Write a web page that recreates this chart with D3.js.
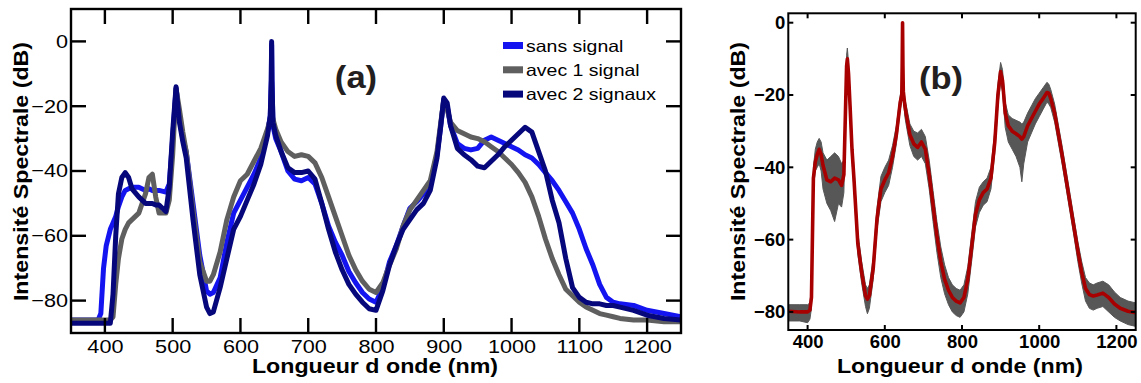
<!DOCTYPE html>
<html><head><meta charset="utf-8">
<script src="https://cdn.jsdelivr.net/npm/d3@7"></script>
<style>
html,body{margin:0;padding:0;background:#fff;}
svg{display:block;font-family:"Liberation Sans",Arial,sans-serif;}
</style></head>
<body><svg id="chart" width="1141" height="383" viewBox="0 0 1141 383"></svg>
<script>
// ---------- Panel (a) data ----------
const waveA = [350,370,390,394,398,402,408,412,416,420,425,430,435,440,450,460,465,470,475,480,490,495,500,505,510,515,520,530,540,550,555,560,570,580,590,600,610,620,630,640,644,645.5,646,646.5,648,652,660,670,680,690,700,710,720,730,740,750,760,770,780,790,800,810,820,830,840,850,860,870,880,890,895,900,905,910,920,930,940,950,960,970,980,990,1000,1010,1020,1030,1040,1050,1060,1070,1080,1090,1100,1110,1120,1130,1140,1150,1160,1180,1200,1225,1250];
const sansSignal = [-86,-86,-86,-84,-70,-63,-58,-56,-54,-51,-48,-46,-45.5,-45,-45,-46,-45.5,-46,-46,-46,-46.5,-44,-30,-14.5,-24,-30,-34,-50,-66,-77,-78,-77.5,-73,-62,-53,-49,-45,-41,-36,-28,-23,-12,-1,-12,-26,-30,-34,-40,-42.5,-43,-42,-44,-50,-57,-62,-66,-71,-74.5,-77.5,-79.5,-80.5,-76,-68,-63,-57,-51.5,-49.5,-47,-44,-35,-27,-18,-20,-26,-31.5,-33,-33.5,-33,-30.5,-29.5,-30.5,-31.5,-32.5,-33.5,-35,-36,-38,-40.5,-43,-46,-49.5,-53,-58,-64,-69,-75,-79,-80.5,-81,-81.5,-83,-84,-85];
const avec1Signal = [-86,-86,-86,-86,-86,-86,-86,-85,-75,-67,-61,-58,-56,-55,-53,-47,-42,-41,-48,-53,-53,-49,-35,-14.5,-21,-28,-34,-52,-68,-74,-74,-72,-65,-55,-48,-43,-41,-37,-33,-27,-24,-22.5,-22,-22.5,-24,-27,-31,-34,-35.5,-35,-35.5,-37.5,-42,-48,-54,-60,-66,-70.5,-74,-76.5,-77.5,-74.5,-69,-64,-57,-52,-49,-46,-43,-34,-26,-18,-21,-25,-27.5,-28.5,-29.5,-30,-31,-32.5,-34,-36,-38,-40.5,-43.5,-48,-54,-61,-67,-72,-76.5,-78.5,-80.5,-82,-83,-84,-84.5,-85,-85.5,-86,-86,-86.5,-86.5];
const avec2Signaux = [-87,-87,-87,-87,-87,-87,-87,-78,-60,-47,-42,-40.5,-42,-45.5,-48,-50,-50,-50,-50.5,-50.5,-52.5,-45,-28,-14,-25,-31,-36,-55,-72,-82,-84,-83.5,-76,-67,-58,-54,-49,-44,-38,-29,-23,-12,0,-12,-25,-29,-34,-39,-40.5,-40.5,-40,-42.5,-50,-58,-65,-70.5,-75,-78,-80.5,-82.5,-83,-77,-69,-63,-58,-55,-52,-50,-46,-36,-27,-17.5,-19,-26,-33,-35,-36.5,-38.5,-39,-37,-35,-32.5,-30.5,-28.5,-26.5,-28,-34,-40,-49,-56,-67,-76,-79,-80.5,-81,-81,-81.5,-81.5,-82,-83,-84.5,-85.5,-86];
const seriesNamesA = ["sans signal","avec 1 signal","avec 2 signaux"];
const seriesColorsA = ["#1414f0","#5f5f5f","#07077c"];
const xTicksA = [400,500,600,700,800,900,1000,1100,1200];
const yTicksA = [0,-20,-40,-60,-80];

// ---------- Panel (b) data ----------
const waveB = [350,380,400,406,410,415,420,425,430,435,440,450,460,470,480,488,494,498,501,503,506,510,515,520,530,540,550,555,560,570,580,590,600,610,620,630,640,642,644,645,646,647,648,652,655,665,675,685,695,705,715,725,735,745,755,765,775,785,795,805,815,825,835,845,855,865,875,885,893,900,905,912,920,930,940,950,955,960,970,980,990,1000,1010,1020,1025,1030,1040,1050,1060,1070,1080,1090,1100,1110,1120,1130,1140,1150,1165,1180,1195,1210,1230,1250];
const meanB = [-79.8,-80,-80,-79.5,-76,-43,-38.5,-36.5,-35,-36.5,-39.5,-43.5,-44,-43,-43.5,-45,-42,-25,-12,-10,-14,-23,-35,-43,-61,-69,-75.5,-76.5,-75.5,-68,-54,-46,-43.5,-41.5,-37,-31,-22,-21,-20,-12,0,-12,-19,-23,-25,-31,-33.5,-34.5,-33,-35,-42,-50.5,-59,-66,-71,-74,-76,-77,-77.5,-76,-71,-62,-53,-49,-47,-46,-43,-33,-20,-13.5,-16,-25,-28.5,-30,-30.7,-31.5,-32.2,-31.5,-28.5,-26.5,-24.5,-22.5,-21,-19.3,-19.5,-21,-25,-31,-37,-43.5,-50,-56.5,-63,-69,-73.5,-75.2,-75.6,-75.3,-74.8,-76,-77.8,-79,-79.8,-80.2];
const highB = [-78,-78,-78,-77.5,-73,-40,-35,-33,-32,-33,-36,-38,-37,-36,-37,-39,-38,-22,-9,-7,-11,-20,-32,-40,-58,-66,-72.5,-73.5,-72.5,-65,-51,-42.5,-40,-38,-34,-28.5,-20,-19,-18,-11,0,-11,-17,-21,-22.5,-28,-30,-30.5,-29.5,-31.5,-38,-46.5,-55,-62,-67,-70.5,-72.5,-73.5,-74,-72.5,-67.5,-58.5,-49.5,-45.5,-44,-43,-40,-30,-17,-11,-13,-22,-25.5,-26.5,-27,-27.5,-28,-27.5,-25,-23,-21,-19.5,-18,-16.5,-17,-18.5,-22.5,-28.5,-34.5,-41,-47.5,-54,-60.5,-66,-70.5,-72,-72.5,-72,-71.5,-72.5,-74.5,-76,-77,-77.5];
const lowB = [-82.5,-82.5,-83,-82,-79,-46,-41,-40,-39,-41,-46,-50,-52,-55,-50,-51,-47,-28,-15,-13,-17,-26,-38,-46,-64,-72,-78.5,-80.5,-79,-71,-57,-49.5,-47,-45,-40,-33.5,-24,-23,-22,-14,-2,-14,-21,-26,-28,-34,-37,-38,-37,-39,-46,-55,-63.5,-70.5,-75,-78,-80,-81,-81.5,-80,-75,-66,-56.5,-52.5,-50.5,-49.5,-46,-36,-23,-16.5,-19,-29,-33,-35,-37,-40,-44,-39,-33,-30.5,-28,-26,-24,-22,-22.5,-23.5,-27.5,-33.5,-39.5,-46,-52.5,-59,-66,-72,-77,-79,-79.5,-79,-78.5,-80,-81.5,-82.5,-83.5,-84];
const xTicksB = [400,600,800,1000,1200];
const yTicksB = [0,-20,-40,-60,-80];

// ---------- Drawing ----------
const svg = d3.select("#chart");
const FONT = '"Liberation Sans",Arial,sans-serif';

function stretch(sel, factor){
  sel.each(function(){
    const w = this.getComputedTextLength();
    d3.select(this).attr("textLength", w*factor).attr("lengthAdjust","spacingAndGlyphs");
  });
}
function styleAxis(g, size, weight){
  g.select(".domain").remove();
  g.selectAll(".tick line").remove();
  g.selectAll(".tick text").attr("fill","#000").style("font-family",FONT)
    .style("font-size",size+"px").style("font-weight",weight);
}
// frame + inward tick marks (filled bars) on all four sides, positioned by the scales
function frameWithTicks(x, y, box, xt, yt, len, sw, col){
  const g = svg.append("g").attr("class","frame");
  const h = sw/2;
  g.selectAll("rect.xb").data(xt).join("rect").attr("class","xb")
    .attr("x",d=>x(d)-h).attr("y",box.b-len).attr("width",sw).attr("height",len).style("fill",col);
  g.selectAll("rect.xt").data(xt).join("rect").attr("class","xt")
    .attr("x",d=>x(d)-h).attr("y",box.t).attr("width",sw).attr("height",len).style("fill",col);
  g.selectAll("rect.yl").data(yt).join("rect").attr("class","yl")
    .attr("x",box.l).attr("y",d=>y(d)-h).attr("width",len).attr("height",sw).style("fill",col);
  g.selectAll("rect.yr").data(yt).join("rect").attr("class","yr")
    .attr("x",box.r-len).attr("y",d=>y(d)-h).attr("width",len).attr("height",sw).style("fill",col);
  g.append("rect").attr("x",box.l).attr("y",box.t).attr("width",box.r-box.l).attr("height",box.b-box.t)
    .attr("fill","none").attr("stroke","#000").attr("stroke-width",sw);
}

// Panel (a)
const A = {l:71, t:9, r:681, b:333};
const xa = d3.scaleLinear().domain([350,1250]).range([A.l, A.r]);
const ya = d3.scaleLinear().domain([-90,10]).range([A.b, A.t]);

svg.append("defs").append("clipPath").attr("id","clipA").append("rect")
  .attr("x",A.l).attr("y",A.t).attr("width",A.r-A.l).attr("height",A.b-A.t);

const gA = svg.append("g").attr("clip-path","url(#clipA)");
const lineA = d3.line().x((d,i)=>xa(waveA[i])).y(d=>ya(d));
[sansSignal, avec1Signal, avec2Signaux].forEach((s,k)=>{
  gA.append("path").datum(s).attr("d", lineA)
    .attr("fill","none").attr("stroke",seriesColorsA[k])
    .attr("stroke-width",5).attr("stroke-linejoin","round");
});

const axA_b = svg.append("g").attr("transform",`translate(0,${A.b})`)
  .call(d3.axisBottom(xa).tickValues(xTicksA).tickSize(0).tickPadding(7).tickFormat(d3.format("d")));
styleAxis(axA_b,18.5,"normal"); stretch(axA_b.selectAll(".tick text"),1.17);
const axA_l = svg.append("g").attr("transform",`translate(${A.l},0)`)
  .call(d3.axisLeft(ya).tickValues(yTicksA).tickSize(0).tickPadding(3).tickFormat(d3.format("d")));
styleAxis(axA_l,18.5,"normal"); stretch(axA_l.selectAll(".tick text"),1.17);
frameWithTicks(xa, ya, A, xTicksA, yTicksA, 15, 2.4, "#000000");

// legend
const leg = svg.append("g");
seriesNamesA.forEach((n,k)=>{
  const yy = 42 + k*24.3;
  leg.append("rect").attr("x",503).attr("y",yy).attr("width",20).attr("height",7).attr("fill",seriesColorsA[k]);
  leg.append("text").attr("x",526).attr("y",yy+9.8).text(n)
    .style("font-family",FONT).style("font-size","16.5px").attr("fill","#000");
});
stretch(leg.selectAll("text"),1.18);

// panel tags
const tagA = svg.append("text").attr("x",356).attr("y",88).attr("text-anchor","middle").text("(a)")
  .style("font-family",FONT).style("font-size","32px").style("font-weight","bold").attr("fill","#231f20");
stretch(tagA,1.08);

// Panel (b)
const B = {l:788.3, t:13.3, r:1135.7, b:330};
const xb = d3.scaleLinear().domain([350,1250]).range([B.l, B.r]);
const yb = d3.scaleLinear().domain([-85,2.6]).range([B.b, B.t]);

svg.select("defs").append("clipPath").attr("id","clipB").append("rect")
  .attr("x",B.l).attr("y",B.t).attr("width",B.r-B.l).attr("height",B.b-B.t);
const gB = svg.append("g").attr("clip-path","url(#clipB)");
const areaB = d3.area().x((d,i)=>xb(waveB[i])).y0((d,i)=>yb(lowB[i])).y1(d=>yb(d));
gB.append("path").datum(highB).attr("d",areaB).attr("fill","#575757")
  .attr("stroke","#575757").attr("stroke-width",1);
const lineB = d3.line().x((d,i)=>xb(waveB[i])).y(d=>yb(d));
gB.append("path").datum(meanB).attr("d",lineB).attr("fill","none")
  .attr("stroke","#a80000").attr("stroke-width",3.6).attr("stroke-linejoin","round");

const axB_b = svg.append("g").attr("transform",`translate(0,${B.b})`)
  .call(d3.axisBottom(xb).tickValues(xTicksB).tickSize(0).tickPadding(5).tickFormat(d3.format("d")));
styleAxis(axB_b,18.5,"bold");
const axB_l = svg.append("g").attr("transform",`translate(${B.l},0)`)
  .call(d3.axisLeft(yb).tickValues(yTicksB).tickSize(0).tickPadding(3).tickFormat(d3.format("d")));
styleAxis(axB_l,18.5,"bold");
frameWithTicks(xb, yb, B, xTicksB, yTicksB, 5, 2, "#000000");

const tagB = svg.append("text").attr("x",941).attr("y",89).attr("text-anchor","middle").text("(b)")
  .style("font-family",FONT).style("font-size","32px").style("font-weight","bold").attr("fill","#231f20");
stretch(tagB,1.08);

// axis titles
function title(x,y,rot,txt){
  const t = svg.append("text").attr("text-anchor","middle")
    .attr("transform",`translate(${x},${y}) rotate(${rot})`).text(txt)
    .style("font-family",FONT).style("font-size","19.5px").style("font-weight","bold").attr("fill","#000");
  stretch(t,1.19);
}
title(375,373,0,"Longueur d onde (nm)");
title(960,373,0,"Longueur d onde (nm)");
title(27.5,171.5,-90,"Intensité Spectrale (dB)");
title(745,171.5,-90,"Intensité Spectrale (dB)");
</script></body></html>
